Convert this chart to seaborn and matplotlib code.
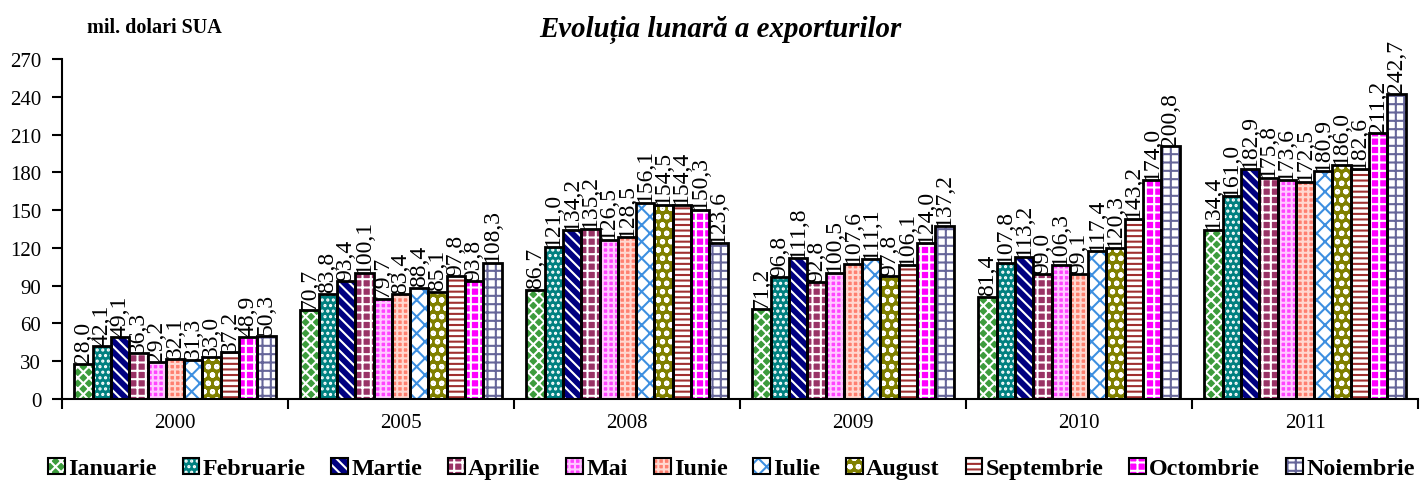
import matplotlib
matplotlib.use("Agg")
import matplotlib.pyplot as plt
import matplotlib.patches as mpatches
from matplotlib.ticker import FixedLocator
import seaborn as sns
import pandas as pd

years = ["2000", "2005", "2008", "2009", "2010", "2011"]
months = ["Ianuarie", "Februarie", "Martie", "Aprilie", "Mai", "Iunie",
          "Iulie", "August", "Septembrie", "Octombrie", "Noiembrie"]

v2000 = [28.0, 42.1, 49.1, 36.3, 29.2, 32.1, 31.3, 33.0, 37.2, 48.9, 50.3]
v2005 = [70.7, 83.8, 93.4, 100.1, 79.7, 83.4, 88.4, 85.1, 97.8, 93.8, 108.3]
v2008 = [86.7, 121.0, 134.2, 135.2, 126.5, 128.5, 156.1, 154.5, 154.4, 150.3, 123.6]
v2009 = [71.2, 96.8, 111.8, 92.8, 100.5, 107.6, 111.1, 97.8, 106.1, 124.0, 137.2]
v2010 = [81.4, 107.8, 113.2, 99.0, 106.3, 99.1, 117.4, 120.3, 143.2, 174.0, 200.8]
v2011 = [134.4, 161.0, 182.9, 175.8, 173.6, 172.5, 180.9, 186.0, 182.6, 211.2, 242.7]
values = [v2000, v2005, v2008, v2009, v2010, v2011]

# face colour, hatch colour, hatch
styles = {
    "Ianuarie":   ("#3c9c3c", "white", "xxx"),
    "Februarie":  ("#008080", "white", "..."),
    "Martie":     ("#000080", "white", "\\\\\\"),
    "Aprilie":    ("#993366", "white", "++"),
    "Mai":        ("#ff44ff", "#ffc8ff", "+++"),
    "Iunie":      ("#ff8070", "#ffd8d0", "+++"),
    "Iulie":      ("white", "#3d8fe0", "xx"),
    "August":     ("#808000", "white", "oo"),
    "Septembrie": ("white", "#a03030", "---"),
    "Octombrie":  ("#ff00ff", "white", "++"),
    "Noiembrie":  ("white", "#666699", "++"),
}

rows = []
for y, vals in zip(years, values):
    for m, v in zip(months, vals):
        rows.append({"year": y, "month": m, "value": v})
df = pd.DataFrame(rows)

sns.set_style("ticks")
plt.rcParams["font.family"] = ["Liberation Serif", "DejaVu Serif"]
plt.rcParams["hatch.linewidth"] = 1.5
for k in ["text.color", "axes.labelcolor", "xtick.color", "ytick.color", "axes.edgecolor"]:
    plt.rcParams[k] = "black"

fig = plt.figure(figsize=(14.23, 4.89), dpi=100)
ax = fig.add_axes([0.0436, 0.182, 0.9529, 0.695])

sns.barplot(data=df, x="year", y="value", hue="month", hue_order=months,
            order=years, width=0.89, gap=0, palette=[styles[m][0] for m in months],
            saturation=1, legend=False, ax=ax)

for m, cont in zip(months, ax.containers):
    face, hcol, hatch = styles[m]
    for p in cont:
        p.set_facecolor(face)
        p.set_edgecolor(hcol)
        p.set_hatch(hatch)
        p.set_linewidth(0)
        ax.add_patch(mpatches.Rectangle((p.get_x(), p.get_y()), p.get_width(), p.get_height(),
                                        fill=False, edgecolor="black", linewidth=2, zorder=3))
    labels = [f"{v:.1f}".replace(".", ",") for v in df[df.month == m]["value"]]
    ax.bar_label(cont, labels=labels, rotation=90, padding=1, fontsize=17)

ax.set_ylim(0, 270)
ax.set_yticks(range(0, 271, 30))
ax.set_xlim(-0.5, 5.5)
ax.xaxis.set_minor_locator(FixedLocator([-0.5, 0.5, 1.5, 2.5, 3.5, 4.5, 5.5]))
ax.tick_params(axis="x", which="major", length=0, labelsize=15, pad=10)
ax.tick_params(axis="x", which="minor", length=7, width=1.5, direction="out")
ax.tick_params(axis="y", length=7, width=1.5, labelsize=15, direction="out", pad=8)
ax.set_xlabel("")
ax.set_ylabel("")
sns.despine(ax=ax)
for s in ["left", "bottom"]:
    ax.spines[s].set_linewidth(1.5)

fig.text(0.506, 0.938, "Evoluția lunară a exporturilor", ha="center", va="center",
         fontsize=20.8, fontweight="bold", fontstyle="italic")
fig.text(0.061, 0.942, "mil. dolari SUA", ha="left", va="center",
         fontsize=14.5, fontweight="bold")

handles = [(mpatches.Patch(facecolor=styles[m][0], edgecolor=styles[m][1], hatch=styles[m][2],
                           linewidth=0),
            mpatches.Patch(fill=False, edgecolor="black", linewidth=1.5)) for m in months]
fig.legend(handles, months, loc="lower center", bbox_to_anchor=(0.514, -0.012), ncol=11,
           frameon=False, handlelength=0.7, handleheight=0.7, handletextpad=0.13,
           columnspacing=1.08, borderaxespad=0.2, prop={"size": 17.3, "weight": "bold"})

fig.savefig("out.png", dpi=100)
